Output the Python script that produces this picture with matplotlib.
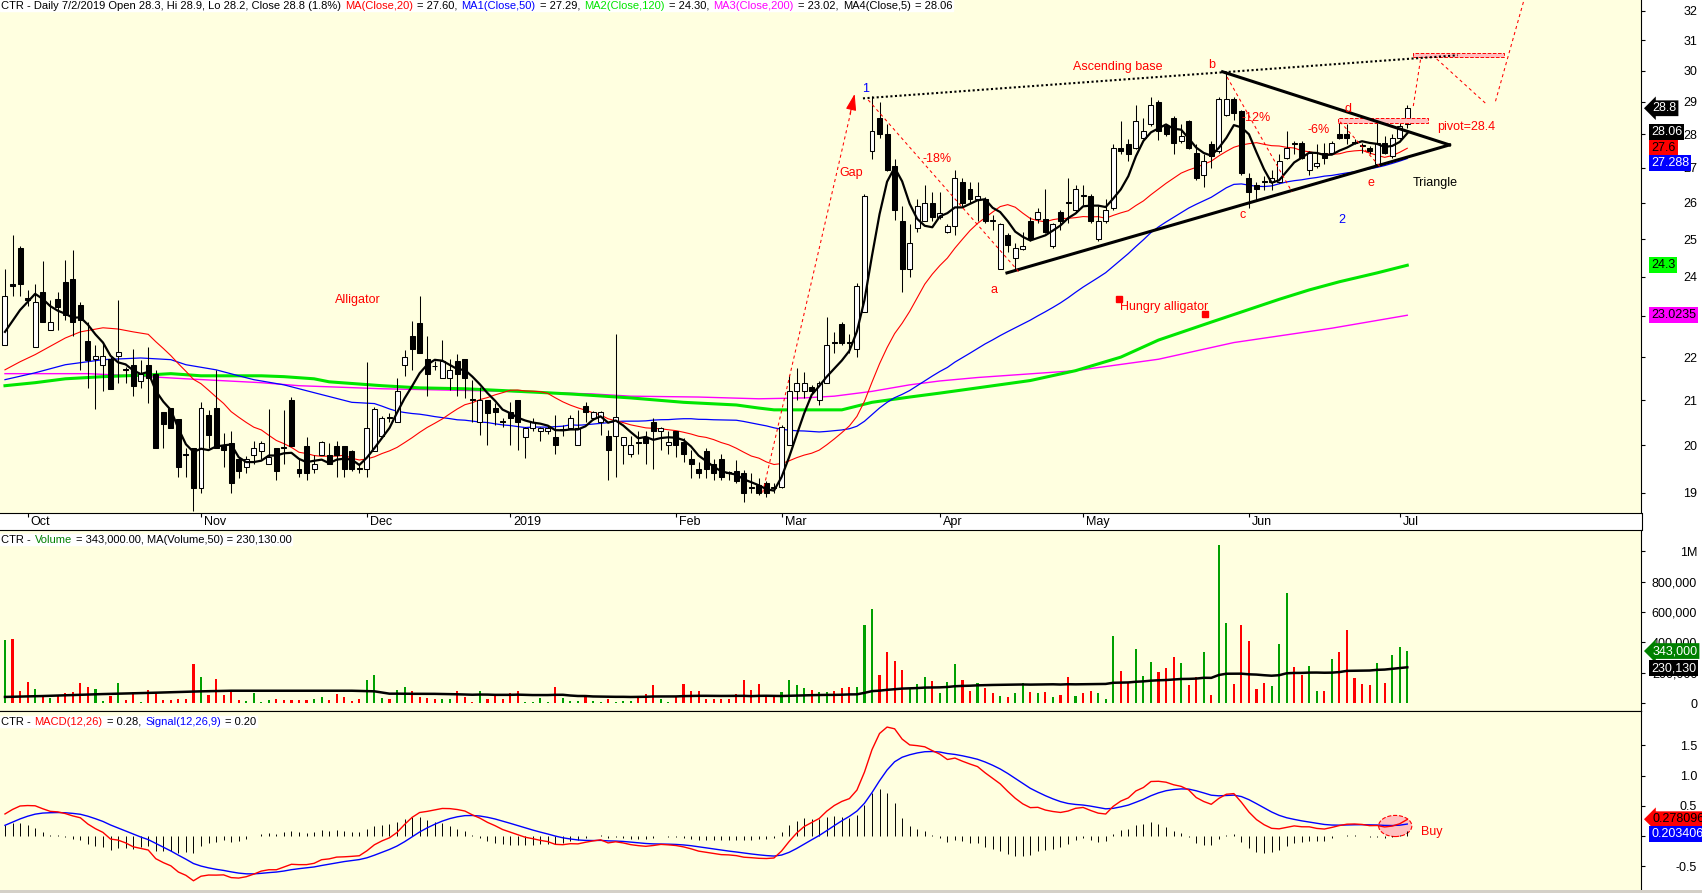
import numpy as np
import pandas as pd
import matplotlib
matplotlib.use("Agg")
import matplotlib.pyplot as plt
from matplotlib.patches import Rectangle, Ellipse
from matplotlib.lines import Line2D
from matplotlib.ticker import NullLocator
from matplotlib.transforms import blended_transform_factory
from matplotlib.offsetbox import TextArea, HPacker, AnchoredOffsetbox

plt.rcParams['font.family'] = ['Liberation Sans', 'DejaVu Sans']

# CTR daily bars, late Sep 2018 .. 2 Jul 2019
opens = [
    22.3, 23.8, 24.75, 23.45, 22.25, 23.6, 22.66, 23.42, 23.87, 23.95,
    23.27, 22.39, 21.96, 21.82, 21.96, 22.03, 21.72, 21.82, 21.45, 21.82,
    21.6, 20.74, 20.82, 20.58, 19.8, 19.93, 19.1, 20.67, 20.82, 20.0,
    20.05, 19.71, 19.54, 19.78, 19.88, 19.6, 19.93, 19.97, 21.0, 19.5,
    19.98, 19.5, 19.78, 19.78, 19.98, 19.98, 19.87, 19.52, 19.5, 19.87,
    20.2, 20.62, 20.5, 21.82, 22.5, 22.83, 21.96, 21.8, 21.5, 21.5,
    21.9, 21.96, 21.02, 20.5, 21.0, 20.82, 20.52, 20.73, 21.0, 20.18,
    20.38, 20.3, 20.3, 20.18, 20.33, 20.38, 20.0, 20.87, 20.6, 20.5,
    20.2, 20.2, 20.0, 19.8, 20.07, 20.18, 20.5, 20.3, 20.0, 20.3,
    20.08, 19.7, 19.5, 19.87, 19.6, 19.7, 19.42, 19.45, 19.4, 19.12,
    19.15, 19.2, 19.12, 19.12, 20.0, 21.2, 21.2, 21.3, 21.0, 21.4,
    22.37, 22.8, 22.37, 22.2, 23.1, 27.5, 28.5, 28.0, 27.05, 25.5,
    24.2, 25.3, 25.5, 26.0, 25.6, 25.2, 25.35, 26.6, 26.4, 26.1,
    26.1, 25.52, 24.2, 25.1, 24.5, 24.72, 25.5, 25.55, 25.55, 24.8,
    25.75, 26.02, 25.8, 26.22, 26.2, 25.0, 25.5, 25.85, 27.6, 27.7,
    27.6, 27.9, 28.3, 29.0, 28.25, 28.5, 27.8, 28.4, 27.45, 26.8,
    27.7, 27.5, 28.6, 29.1, 28.7, 26.7, 26.5, 26.62, 26.6, 26.6,
    27.3, 27.75, 27.75, 26.95, 27.05, 27.45, 27.45, 28.0, 28.0, 27.77,
    27.67, 27.6, 27.1, 27.75, 27.35, 27.9, 28.3]
highs = [
    24.2, 25.1, 24.8, 23.66, 23.8, 24.4, 23.4, 23.6, 24.44, 24.71,
    23.35, 22.85, 22.3, 22.33, 22.0, 23.4, 21.77, 22.2, 21.94, 22.25,
    21.7, 20.74, 20.82, 20.58, 19.95, 19.95, 20.95, 20.78, 21.7, 20.27,
    20.3, 19.75, 19.77, 20.1, 20.1, 20.8, 19.93, 20.78, 21.07, 19.7,
    20.18, 19.78, 20.1, 20.05, 20.1, 19.98, 19.9, 19.57, 21.88, 20.85,
    20.65, 20.7, 21.5, 22.17, 22.87, 23.5, 22.5, 21.9, 22.4, 21.96,
    22.07, 21.96, 21.47, 21.3, 21.0, 20.93, 20.6, 20.95, 21.0, 20.4,
    20.6, 20.4, 20.42, 20.67, 20.45, 20.67, 20.78, 20.95, 20.75, 20.75,
    20.33, 22.55, 20.18, 20.2, 20.3, 20.3, 20.6, 20.4, 20.3, 20.3,
    20.15, 19.9, 19.65, 19.95, 19.7, 19.8, 19.45, 19.69, 19.47, 19.4,
    19.3, 19.25, 19.2, 20.45, 21.57, 21.75, 21.65, 21.35, 21.45, 22.97,
    22.6, 22.85, 22.55, 23.85, 26.25, 29.2, 29.0, 28.3, 27.25, 25.9,
    25.4, 26.1, 26.5, 26.3, 26.3, 25.4, 26.95, 26.7, 26.6, 26.6,
    26.15, 25.65, 25.45, 25.15, 24.9, 25.2, 25.6, 25.85, 26.4, 25.45,
    25.8, 26.7, 26.5, 26.5, 26.25, 25.9, 26.1, 27.7, 28.4, 27.85,
    28.9, 28.5, 29.15, 29.05, 28.3, 28.55, 28.3, 28.45, 27.7, 27.4,
    27.8, 29.15, 30.0, 29.15, 28.75, 26.85, 26.6, 26.75, 26.95, 27.4,
    28.1, 27.8, 27.8, 27.5, 27.7, 27.75, 27.8, 28.5, 28.3, 27.85,
    27.75, 27.65, 28.35, 27.95, 28.0, 28.4, 28.9]
lows = [
    22.3, 23.5, 23.5, 23.25, 22.25, 22.85, 22.66, 22.66, 22.9, 22.5,
    21.7, 21.28, 20.8, 21.2, 21.26, 21.4, 21.4, 21.1, 21.28, 20.93,
    19.93, 19.95, 20.38, 19.32, 19.32, 18.62, 19.0, 19.95, 19.93, 19.54,
    19.0, 19.3, 19.4, 19.6, 19.7, 19.6, 19.26, 19.6, 19.98, 19.32,
    19.26, 19.4, 19.78, 19.6, 19.32, 19.32, 19.45, 19.4, 19.32, 19.87,
    20.2, 20.5, 20.5, 21.55, 21.7, 22.1, 21.1, 21.7, 21.5, 21.23,
    21.1, 21.05, 20.5, 20.23, 20.0, 20.45, 20.4, 20.0, 19.9, 19.73,
    20.3, 20.1, 20.25, 19.8, 20.2, 20.35, 20.0, 20.5, 20.55, 20.23,
    19.26, 19.32, 19.6, 19.75, 19.8, 19.6, 19.5, 19.9, 19.8, 19.75,
    19.65, 19.3, 19.3, 19.3, 19.26, 19.26, 19.26, 19.2, 18.8, 19.0,
    18.95, 18.9, 19.0, 19.1, 20.0, 21.0, 21.05, 21.15, 20.9, 21.4,
    22.1, 22.3, 22.1, 22.0, 23.1, 27.25, 27.9, 26.9, 25.53, 23.6,
    24.0, 25.2, 25.5, 25.5, 25.55, 25.15, 25.1, 25.9, 26.0, 25.5,
    25.45, 25.25, 24.2, 24.65, 24.2, 24.7, 24.95, 25.45, 25.15, 24.75,
    25.25, 25.45, 25.75, 25.95, 25.45, 24.95, 25.45, 25.8, 27.4, 27.2,
    27.55, 27.85, 28.25, 27.83, 27.95, 27.4, 27.75, 27.55, 26.65, 26.45,
    27.0, 27.45, 28.55, 28.44, 26.8, 25.85, 26.05, 26.35, 26.35, 26.55,
    27.25, 27.4, 27.25, 26.8, 27.0, 27.1, 27.4, 27.85, 27.7, 27.7,
    27.45, 27.4, 27.05, 27.4, 27.3, 27.85, 28.2]
closes = [
    23.5, 23.75, 23.8, 23.4, 23.35, 22.85, 22.85, 23.22, 23.02, 22.85,
    22.9, 21.94, 22.03, 22.03, 21.26, 22.12, 21.7, 21.33, 21.6, 21.5,
    19.93, 20.47, 20.38, 19.54, 19.78, 19.1, 20.82, 20.23, 19.93, 19.9,
    19.2, 19.45, 19.71, 19.93, 20.05, 19.75, 19.45, 19.95, 19.98, 19.4,
    19.4, 19.6, 20.07, 19.6, 19.78, 19.5, 19.5, 19.5, 20.38, 20.8,
    20.6, 20.6, 21.2, 22.0, 22.2, 22.1, 21.6, 21.78, 21.9, 21.7,
    21.6, 21.5, 21.0, 21.0, 20.7, 20.73, 20.5, 20.6, 20.5, 20.38,
    20.5, 20.38, 20.38, 20.0, 20.36, 20.6, 20.38, 20.73, 20.73, 20.73,
    19.9, 20.62, 20.18, 20.0, 20.05, 20.05, 20.3, 20.38, 20.08, 20.0,
    19.8, 19.6, 19.4, 19.5, 19.4, 19.32, 19.4, 19.25, 19.0, 19.1,
    19.0, 19.0, 19.1, 20.4, 21.2, 21.4, 21.4, 21.2, 21.4, 22.3,
    22.35, 22.35, 22.35, 23.75, 26.2, 28.1, 28.0, 26.95, 25.8, 24.2,
    24.9, 25.9, 26.0, 25.6, 25.7, 25.35, 26.7, 26.0, 26.1, 26.2,
    25.5, 25.5, 25.4, 24.85, 24.75, 24.8, 25.0, 25.75, 25.2, 25.4,
    25.5, 26.0, 26.4, 26.2, 25.5, 25.5, 25.8, 27.6, 27.5, 27.4,
    28.4, 28.1, 28.9, 28.1, 28.0, 27.75, 27.95, 27.6, 26.7, 27.2,
    27.35, 29.1, 29.1, 28.65, 26.85, 26.3, 26.4, 26.6, 26.7, 27.2,
    27.6, 27.7, 27.3, 27.45, 27.15, 27.3, 27.75, 27.9, 27.9, 27.75,
    27.65, 27.5, 27.75, 27.45, 27.9, 28.25, 28.8]
volume_k = [
    415, 422, 79, 138, 92, 42, 33, 44, 66, 73,
    132, 105, 92, 15, 46, 132, 20, 73, 9, 86,
    73, 20, 20, 26, 26, 257, 171, 53, 158, 53,
    86, 20, 15, 66, 9, 20, 26, 20, 20, 20,
    20, 26, 40, 20, 57, 40, 15, 26, 152, 185,
    33, 26, 86, 105, 79, 40, 33, 26, 26, 26,
    79, 40, 9, 79, 26, 53, 26, 66, 79, 9,
    9, 33, 9, 105, 33, 15, 15, 40, 15, 9,
    26, 9, 15, 15, 40, 57, 119, 26, 9, 40,
    125, 79, 79, 26, 26, 26, 26, 57, 152, 86,
    125, 53, 40, 73, 152, 119, 99, 86, 73, 73,
    79, 99, 105, 105, 514, 620, 185, 338, 277, 218,
    92, 125, 171, 145, 66, 138, 257, 152, 79, 132,
    99, 66, 46, 40, 66, 132, 73, 66, 73, 40,
    53, 171, 46, 66, 79, 66, 26, 442, 211, 132,
    356, 178, 270, 204, 231, 303, 264, 119, 171, 336,
    53, 1042, 527, 125, 514, 409, 92, 132, 112, 389,
    725, 237, 185, 244, 79, 79, 290, 336, 481, 165,
    125, 119, 264, 132, 317, 369, 343]

# month ticks (bar index of first session)
month_idx = [3, 26, 48, 67, 89, 103, 124, 143, 165, 185]
month_labels = ['Oct', 'Nov', 'Dec', '2019', 'Feb', 'Mar', 'Apr', 'May', 'Jun', 'Jul']

# moving-average values before enough bars exist
ma5_head_idx = [0, 2]
ma5_head = [22.61, 23.15]
ma20_head_idx = [0, 2, 4, 6, 8, 10, 13, 15, 17]
ma20_head = [21.70, 21.89, 22.06, 22.26, 22.46, 22.61, 22.71, 22.68, 22.61]
ma50_head_idx = [0, 4, 8, 13, 18, 22, 24, 28, 31, 33, 37, 41, 46]
ma50_head = [21.47, 21.63, 21.82, 21.94, 21.98, 21.94, 21.82, 21.70, 21.56, 21.47, 21.35, 21.17, 20.95]
ma120_idx = [0, 4, 8, 13, 19, 22, 26, 34, 37, 41, 43, 50, 55, 61, 67, 75, 83, 90, 97, 100,
             102, 111, 115, 120, 124, 129, 136, 142, 148, 153, 160, 169, 173, 177, 182, 186]
ma120 = [21.33, 21.40, 21.49, 21.54, 21.58, 21.61, 21.56, 21.56, 21.54, 21.49, 21.42, 21.33,
         21.28, 21.26, 21.21, 21.14, 21.05, 20.95, 20.89, 20.82, 20.78, 20.78, 20.95, 21.07,
         21.16, 21.28, 21.45, 21.68, 22.0, 22.41, 22.85, 23.42, 23.66, 23.87, 24.10, 24.30]
ma200_idx = [0, 11, 17, 24, 34, 39, 50, 67, 78, 83, 92, 100, 106, 110, 115, 120, 124, 129,
             142, 153, 163, 176, 186]
ma200 = [21.61, 21.61, 21.56, 21.49, 21.40, 21.33, 21.26, 21.20, 21.14, 21.09, 21.07, 21.03,
         21.05, 21.09, 21.20, 21.35, 21.44, 21.52, 21.68, 21.95, 22.35, 22.70, 23.02]
vma_head_idx = [0, 5, 13, 20, 26, 30, 46]
vma_head_k = [40, 46, 59, 68, 77, 81, 81]

# MACD state at the left edge of the chart
macd_start = 0.29
signal_start = 0.13
ema26_start = 22.0

n = len(closes)
x = np.arange(n)
o, h, l, c = map(np.array, (opens, highs, lows, closes))
vol = np.array(volume_k) * 1000.0
up = c >= o

def with_head(hx, hv, series, start):
    return list(hx) + list(range(start, n)), list(hv) + list(series[start:])

cs = pd.Series(c)
ma5 = with_head(ma5_head_idx, ma5_head, cs.rolling(5).mean().to_numpy(), 4)
ma20 = with_head(ma20_head_idx, ma20_head, cs.rolling(20).mean().to_numpy(), 19)
ma50 = with_head(ma50_head_idx, ma50_head, cs.rolling(50).mean().to_numpy(), 49)
vma = with_head(vma_head_idx, np.array(vma_head_k) * 1000.0,
                pd.Series(vol).rolling(50).mean().to_numpy(), 49)

def ema(vals, span, seed):
    k = 2.0 / (span + 1)
    out, e = [], seed
    for v in vals:
        e = e + k * (v - e)
        out.append(e)
    return np.array(out)

macd = ema(c, 12, ema26_start + macd_start) - ema(c, 26, ema26_start)
signal = ema(macd, 9, signal_start)
hist = macd - signal

# ---- figure / panels ----
W, H = 1702, 893
BG = '#FFFFE0'
fig = plt.figure(figsize=(W / 100, H / 100), dpi=100, facecolor='white')

def panel(y0, y1):
    ax = fig.add_axes([0, 1 - y1 / H, 1641 / W, (y1 - y0) / H])
    ax.set_facecolor(BG)
    ax.set_xlim(-0.66, 217.0)
    ax.spines['left'].set_visible(False)
    ax.yaxis.tick_right()
    ax.tick_params(axis='y', direction='out', length=3, width=0.8, pad=37.5, labelsize=9)
    ax.tick_params(axis='x', bottom=False, labelbottom=False)
    return ax

axp = panel(0, 513)
axv = panel(530, 711)
axm = panel(711, 890)
axp.spines['top'].set_visible(False)
axm.spines['bottom'].set_visible(False)

def right_labels(ax):
    for t in ax.yaxis.get_major_ticks():
        t.label2.set_horizontalalignment('right')

# price
axp.set_yscale('log')
axp.set_ylim(18.585, 32.38)
pticks = list(range(19, 33))
axp.set_yticks(pticks)
axp.set_yticklabels([str(t) for t in pticks])
axp.yaxis.set_minor_locator(NullLocator())
right_labels(axp)
axp.set_xticks(month_idx)
axp.tick_params(axis='x', bottom=True, direction='out', length=3, width=0.8, labelbottom=False)
xb = blended_transform_factory(axp.transData, axp.transAxes)
for i, lab in zip(month_idx, month_labels):
    axp.text(i + 0.4, -0.005, lab, transform=xb, ha='left', va='top', fontsize=9)

axp.vlines(x, l, h, color='black', lw=0.75, zorder=2)
axp.bar(x, np.abs(c - o), bottom=np.minimum(o, c), width=0.66,
        color=np.where(up, 'white', 'black'), edgecolor='black', linewidth=0.75, zorder=3)

axp.plot(ma200_idx, ma200, color='#FF00FF', lw=1.0, zorder=1.6)
axp.plot(ma120_idx, ma120, color='#00E600', lw=2.2, zorder=1.7)
axp.plot(*ma50, color='#0000FF', lw=0.9, zorder=1.8)
axp.plot(*ma20, color='#FF0000', lw=0.8, zorder=1.9)
axp.plot(*ma5, color='black', lw=1.6, zorder=4)

# drawn annotations
red_dash = dict(color='red', lw=0.75, ls=(0, (3, 3)), zorder=5)
axp.plot([113.8, 192.7], [29.11, 30.5], color='black', lw=1.5, ls=(0, (1, 1.2)), zorder=5)
axp.plot([161.5, 191.6], [29.96, 27.68], color='black', lw=2.2, zorder=5)
axp.plot([132.9, 191.6], [24.10, 27.68], color='black', lw=2.2, zorder=5)
axp.plot([100.5, 112.4], [19.0, 28.9], **red_dash)
axp.annotate('', xy=(112.7, 29.25), xytext=(112.1, 28.63),
             arrowprops=dict(arrowstyle='-|>,head_length=1.0,head_width=0.32', color='red',
                             lw=0.8, shrinkA=0, shrinkB=0), zorder=6)
axp.plot([114.5, 134.6], [29.06, 24.10], **red_dash)
axp.plot([162.1, 170.7], [29.79, 26.31], **red_dash)
axp.plot([177.1, 182.4], [28.38, 27.03], **red_dash)
axp.plot([186.8, 187.8], [28.87, 30.43], **red_dash)
axp.plot([189.9, 196.5], [30.38, 28.93], **red_dash)
axp.plot([197.7, 201.5], [29.02, 32.4], **red_dash)
axp.add_patch(Rectangle((176.8, 28.33), 11.9, 0.17, fc='#FFC0C0', ec='red', ls='--', lw=0.7, zorder=4.5))
axp.add_patch(Rectangle((186.7, 30.43), 12.1, 0.15, fc='#FFC0C0', ec='red', ls='--', lw=0.7, zorder=4.5))
axp.plot([147.7, 159.2], [23.43, 23.05], 's', color='red', ms=4.3, zorder=5)

def note(xi, y, s, color='red', ha='center'):
    axp.text(xi, y, s, color=color, ha=ha, va='center', fontsize=9, zorder=7)

note(114.2, 29.42, '1', color='blue')
note(112.2, 26.85, 'Gap')
note(123.6, 27.26, '-18%')
note(147.6, 30.12, 'Ascending base')
note(160.1, 30.17, 'b')
note(131.2, 23.66, 'a')
note(164.2, 25.66, 'c')
note(178.2, 28.79, 'd')
note(181.2, 26.55, 'e')
note(177.3, 25.51, '2', color='blue')
note(166.0, 28.49, '-12%')
note(174.2, 28.12, '-6%')
note(189.9, 28.23, 'pivot=28.4', ha='left')
note(186.7, 26.57, 'Triangle', color='black', ha='left')
note(147.9, 23.23, 'Hungry alligator', ha='left')
note(43.8, 23.40, 'Alligator', ha='left')

# volume
axv.set_ylim(-52800, 1141900)
vticks = [0, 200000, 400000, 600000, 800000, 1000000]
axv.set_yticks(vticks)
axv.set_yticklabels(['0', '200,000', '400,000', '600,000', '800,000', '1M'])
right_labels(axv)
axv.bar(x, vol, width=0.28, color=np.where(up, '#00A000', '#FF0000'), linewidth=0, zorder=2)
axv.plot(*vma, color='black', lw=1.8, zorder=3)

# MACD
axm.set_ylim(-0.894, 2.07)
axm.set_yticks([-0.5, 0, 0.5, 1.0, 1.5])
axm.set_yticklabels(['-0.5', '0', '0.5', '1.0', '1.5'])
right_labels(axm)
axm.add_patch(Ellipse((184.4, 0.166), 4.4, 0.35, fc='#FFC0C0', ec='red', ls='--', lw=0.8, zorder=1.5))
axm.vlines(x, 0, hist, color='black', lw=0.7, zorder=2)
axm.plot(x, signal, color='blue', lw=1.0, zorder=3)
axm.plot(x, macd, color='red', lw=1.0, zorder=3)
axm.text(187.8, 0.063, 'Buy', color='red', fontsize=9, ha='left', va='center')

# headers
def header(ax, parts, dy_px, height_px):
    areas = [TextArea(s, textprops=dict(color=col, fontsize=8)) for s, col in parts]
    pack = HPacker(children=areas, align='baseline', pad=0, sep=3)
    box = AnchoredOffsetbox(loc='upper left', child=pack, pad=0.05, borderpad=0, frameon=True,
                            bbox_to_anchor=(0.0, 1 - dy_px / height_px),
                            bbox_transform=ax.transAxes)
    box.patch.set_facecolor('white')
    box.patch.set_edgecolor('white')
    box.set_zorder(8)
    ax.add_artist(box)

header(axp, [('CTR - Daily 7/2/2019 Open 28.3, Hi 28.9, Lo 28.2, Close 28.8 (1.8%)', 'black'),
             ('MA(Close,20)', 'red'), ('= 27.60,', 'black'),
             ('MA1(Close,50)', 'blue'), ('= 27.29,', 'black'),
             ('MA2(Close,120)', '#00E600'), ('= 24.30,', 'black'),
             ('MA3(Close,200)', '#FF00FF'), ('= 23.02,', 'black'),
             ('MA4(Close,5)', 'black'), ('= 28.06', 'black')], 0, 513)
header(axv, [('CTR -', 'black'), ('Volume', '#008000'),
             ('= 343,000.00, MA(Volume,50) = 230,130.00', 'black')], 4, 181)
header(axm, [('CTR -', 'black'), ('MACD(12,26)', 'red'), ('= 0.28,', 'black'),
             ('Signal(12,26,9)', 'blue'), ('= 0.20', 'black')], 5, 179)

# last-value tags on the right scale
def tag(ax, y, s, fc, tc, dy=0.0, arrow=False):
    tr = blended_transform_factory(ax.transAxes, ax.transData)
    ax.annotate(s, xy=(1, y), xycoords=tr, xytext=(8.2 if arrow else 7.4, dy),
                textcoords='offset points', ha='left', va='center', fontsize=9, color=tc,
                bbox=dict(boxstyle=('larrow,pad=0.15' if arrow else 'square,pad=0.15'),
                          fc=fc, ec='none'),
                annotation_clip=False, zorder=10)

tag(axp, 28.8, '28.8', 'black', 'white', arrow=True)
tag(axp, 28.06, '28.06', 'black', 'white')
tag(axp, 27.6, '27.6', '#FF0000', 'black')
tag(axp, 27.288, '27.288', '#0000FF', 'white', dy=-3.5)
tag(axp, 24.3, '24.3', '#00FF00', 'black')
tag(axp, 23.0235, '23.0235', '#FF00FF', 'black')
tag(axv, 343000, '343,000', '#008000', 'white', arrow=True)
tag(axv, 230130, '230,130', 'black', 'white')
tag(axm, 0.278096, '0.278096', '#FF0000', 'black', arrow=True)
tag(axm, 0.203406, '0.203406', '#0000FF', 'white', dy=-7.4)

# scale line through the date strip and the bottom window edge
fig.add_artist(Line2D([1641.5 / W] * 2, [1 - 530 / H, 1 - 513 / H], color='black', lw=0.8,
                      transform=fig.transFigure))
fig.add_artist(Rectangle((0, 0), 1, 3 / H, transform=fig.transFigure, fc='#D4D0C8', ec='none'))

fig.savefig('out.png', dpi=100, facecolor='white')
